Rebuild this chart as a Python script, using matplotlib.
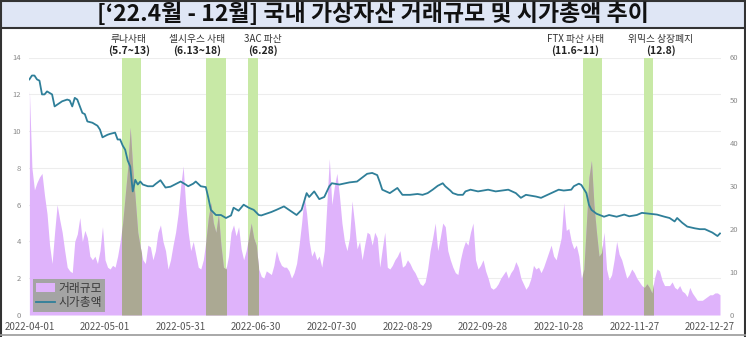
import matplotlib
matplotlib.use('Agg')
import matplotlib.pyplot as plt
import matplotlib.transforms as mtransforms
from matplotlib.patches import Rectangle, Patch
from matplotlib.lines import Line2D
import numpy as np
import pandas as pd

plt.rcParams['font.family'] = ['Noto Sans CJK KR', 'DejaVu Sans']

# ---------------- data ----------------
start_date = '2022-04-01'

# daily trading volume (left axis), day 0 = 2022-04-01
volume = [
    12.2, 8.0, 6.8, 7.2, 7.5, 7.7, 6.5, 5.5, 3.8, 2.8,
    4.5, 6.0, 5.2, 4.5, 3.5, 2.6, 2.4, 2.3, 4.0, 4.4,
    5.3, 4.0, 4.6, 4.2, 3.2, 3.0, 3.2, 2.8, 3.5, 4.8,
    3.0, 2.6, 2.5, 2.7, 2.6, 3.2, 4.0, 5.0, 6.5, 8.0,
    10.2, 8.0, 6.3, 4.5, 3.7, 3.0, 2.8, 3.8, 3.7, 3.0,
    3.5, 4.5, 4.9, 4.0, 3.5, 2.5, 3.0, 3.8, 4.5, 5.5,
    7.0, 8.1, 6.0, 4.5, 3.5, 4.0, 3.3, 2.6, 2.5, 3.0,
    4.0, 5.3, 6.1, 5.0, 4.5, 5.5, 3.8, 2.6, 2.5, 3.2,
    4.5, 4.9, 4.3, 4.8, 3.6, 3.0, 3.5, 4.2, 5.0, 4.2,
    3.8, 2.5, 2.1, 2.0, 2.4, 2.3, 2.2, 2.7, 3.5, 3.0,
    2.7, 2.6, 2.6, 2.4, 2.0, 2.3, 2.8, 3.8, 5.0, 6.5,
    5.5, 4.0, 3.2, 3.5, 3.0, 3.2, 2.6, 3.5, 6.0, 8.5,
    6.0, 7.0, 7.7, 6.5, 5.0, 4.0, 3.5, 4.2, 6.2, 5.0,
    3.6, 4.0, 3.0, 3.8, 4.5, 4.4, 3.8, 4.5, 4.2, 2.6,
    3.6, 4.5, 2.6, 2.5, 2.7, 3.0, 3.2, 3.5, 2.6, 2.7,
    3.0, 2.8, 2.5, 2.3, 2.0, 1.7, 1.6, 1.8, 2.5, 3.5,
    4.2, 5.0, 3.5, 4.2, 5.0, 4.8, 3.5, 3.0, 2.6, 2.3,
    2.2, 3.0, 3.6, 4.0, 3.8, 4.5, 5.0, 3.0, 2.5, 2.7,
    3.0, 2.4, 2.0, 1.5, 1.4, 1.5, 1.7, 2.0, 2.2, 2.4,
    2.0, 2.3, 2.5, 2.9, 2.6, 2.0, 1.7, 1.4, 1.6, 2.0,
    2.7, 2.5, 2.6, 2.3, 2.6, 3.0, 3.4, 3.8, 3.2, 3.0,
    3.6, 4.2, 6.1, 4.6, 4.7, 4.0, 3.6, 3.8, 3.2, 2.0,
    2.5, 5.0, 7.5, 8.4, 6.0, 4.5, 3.2, 3.4, 4.5, 2.5,
    1.9, 2.2, 3.0, 4.0, 3.3, 3.0, 2.5, 2.0, 2.2, 2.5,
    2.3, 2.0, 1.8, 1.6, 1.5, 1.7, 1.5, 1.2, 2.0, 2.5,
    2.4, 1.9, 1.6, 1.6, 1.6, 1.8, 1.5, 1.4, 1.6, 1.3,
    1.2, 1.0, 1.5, 1.2, 1.0, 0.8, 0.8, 0.8, 0.9, 1.0,
    1.1, 1.1, 1.2, 1.2, 1.1,
]

# market capitalisation (right axis), sampled days since 2022-04-01
cap_days = [
    0, 1, 2, 3, 4, 5, 6, 7, 9, 10, 11, 13, 15, 16, 17, 18, 19, 21, 22, 23,
    25, 27, 28, 29, 31, 32, 34, 35, 36, 37, 38, 39, 40, 41, 42, 43, 44, 45,
    47, 49, 50, 52, 54, 56, 58, 60, 62, 63, 65, 66, 68, 70, 71, 72, 74, 76,
    78, 80, 81, 83, 85, 87, 89, 91, 92, 94, 96, 98, 101, 103, 106, 108, 110,
    111, 113, 115, 117, 119, 120, 123, 127, 130, 132, 134, 136, 138, 139,
    140, 143, 144, 146, 148, 151, 154, 156, 158, 160, 162, 164, 165, 167,
    168, 170, 172, 173, 175, 178, 182, 185, 190, 193, 195, 197, 201, 203,
    207, 210, 212, 215, 216, 218, 219, 221, 222, 223, 225, 228, 230, 233,
    236, 238, 241, 243, 246, 249, 252, 254, 256, 257, 259, 261, 264, 266,
    268, 271, 273, 274,
]
cap_values = [
    54.9, 55.8, 55.8, 54.9, 54.6, 51.4, 51.4, 52.1, 51.4, 48.6, 49.0, 49.8,
    50.2, 50.0, 48.6, 50.6, 50.2, 47.1, 46.8, 45.1, 44.8, 44.1, 43.2, 41.4,
    42.0, 42.2, 42.5, 40.9, 40.9, 39.5, 38.5, 36.0, 34.6, 28.8, 31.5, 30.4,
    31.1, 30.4, 30.0, 30.0, 30.5, 31.4, 29.7, 29.9, 30.5, 31.1, 30.4, 30.0,
    30.6, 31.1, 30.0, 29.8, 27.3, 24.5, 23.3, 23.3, 22.6, 23.2, 25.0, 24.3,
    25.7, 25.0, 24.5, 23.3, 23.2, 23.6, 24.0, 24.5, 25.3, 24.5, 23.3, 24.5,
    28.4, 27.5, 28.8, 27.0, 27.5, 30.0, 30.7, 30.4, 30.9, 31.1, 32.0, 32.9,
    33.1, 32.6, 31.0, 29.2, 28.4, 28.8, 29.6, 28.0, 28.0, 28.2, 28.0, 28.4,
    29.2, 30.1, 30.7, 30.0, 29.0, 28.4, 28.0, 28.0, 28.8, 29.2, 28.8, 29.2,
    28.8, 29.2, 28.4, 27.3, 28.0, 27.6, 27.3, 28.4, 29.2, 29.0, 29.2, 30.0,
    30.6, 30.3, 28.4, 25.7, 24.5, 23.6, 22.9, 23.3, 22.9, 23.4, 23.0, 23.3,
    23.8, 23.6, 23.4, 22.9, 22.6, 21.8, 22.6, 21.5, 20.6, 20.2, 20.0, 20.0,
    19.2, 18.4, 19.0,
]

# event bands (days since start)
band_start = [36.7, 70.0, 86.7, 219.7, 243.9]
band_end = [44.3, 78.0, 90.7, 227.2, 247.5]
event_names = ['루나사태', '셀시우스 사태', '3AC 파산', 'FTX 파산 사태', '위믹스 상장폐지']
event_dates = ['(5.7~13)', '(6.13~18)', '(6.28)', '(11.6~11)', '(12.8)']
event_label_day = [39.5, 66.5, 92.7, 216.5, 250.6]

x_tick_days = [0, 30, 60, 90, 120, 150, 180, 210, 240, 270]
left_ticks = [0, 2, 4, 6, 8, 10, 12, 14]
right_ticks = [0, 10, 20, 30, 40, 50, 60]
legend_labels = ['거래규모', '시가총액']
title = '[‘22.4월 - 12월] 국내 가상자산 거래규모 및 시가총액 추이'

# ---------------- style ----------------
PURPLE = '#dfb3fb'
TEAL = '#2f7f99'
GREEN = '#c8e9a6'
OVERLAP = '#aba993'

W, H = 746, 337
fig = plt.figure(figsize=(W / 100, H / 100), dpi=100)
fig.patch.set_facecolor('white')

# title bar
fig.patches.append(Rectangle((0, 1 - 27 / H), 1, 27 / H, transform=fig.transFigure,
                             facecolor='#dfe6f5', edgecolor='none', zorder=0))
fig.lines.append(Line2D([0, 1], [1 - 27.5 / H, 1 - 27.5 / H], transform=fig.transFigure,
                        color='#333333', lw=1.5))
fig.lines.append(Line2D([0, 1], [1 - 0.5 / H, 1 - 0.5 / H], transform=fig.transFigure,
                        color='#333333', lw=1.5))
fig.lines.append(Line2D([0.7 / W, 0.7 / W], [0, 1], transform=fig.transFigure,
                        color='#333333', lw=1.5))
fig.lines.append(Line2D([1 - 1.2 / W, 1 - 1.2 / W], [0, 1], transform=fig.transFigure,
                        color='#333333', lw=1.5))
fig.lines.append(Line2D([0, 1], [2.5 / H, 2.5 / H], transform=fig.transFigure,
                        color='#9a9a9a', lw=1.2))
fig.text(0.5, 1 - 14.5 / H, title, ha='center', va='center', fontsize=16.5,
         color='#111111', fontweight='bold')

left_px, right_px, top_px, bot_px = 29.4, 721.0, 57.5, 315.0
ax = fig.add_axes([left_px / W, 1 - bot_px / H, (right_px - left_px) / W, (bot_px - top_px) / H])
ax2 = ax.twinx()

days = np.arange(len(volume))
ax.set_xlim(0, 274.4)
ax.set_ylim(0, 14)
ax2.set_ylim(0, 60)

for s, e in zip(band_start, band_end):
    ax.axvspan(s, e, color=GREEN, lw=0, zorder=0.6)

ax.fill_between(days, 0, volume, color=PURPLE, lw=0, zorder=1)
for s, e in zip(band_start, band_end):
    poly = ax.fill_between(days, 0, volume, color=OVERLAP, lw=0, zorder=2)
    clip = Rectangle((s, 0), e - s, 14, transform=ax.transData)
    poly.set_clip_path(clip)

ax2.plot(cap_days, cap_values, color=TEAL, lw=1.3, zorder=3)

ax.set_yticks(left_ticks)
ax2.set_yticks(right_ticks)
ax.yaxis.grid(True, color='#ededed', lw=0.8)
ax.set_axisbelow(True)
ax.set_xticks(x_tick_days)
base = pd.Timestamp(start_date)
ax.set_xticklabels([(base + pd.Timedelta(days=d)).strftime('%Y-%m-%d') for d in x_tick_days])

for a in (ax, ax2):
    for sp in a.spines.values():
        sp.set_visible(False)
ax.tick_params(axis='x', length=0, pad=5, labelsize=7, labelcolor='#555555')
ax.tick_params(axis='y', length=0, pad=6, labelsize=5.5, labelcolor='#8a8a8a')
ax2.tick_params(axis='y', length=0, pad=6, labelsize=5.5, labelcolor='#8a8a8a')

# event annotations
blend = mtransforms.blended_transform_factory(ax.transData, fig.transFigure)
for d, n, dt in zip(event_label_day, event_names, event_dates):
    ax.text(d, 1 - 39 / H, n, transform=blend, ha='center', va='center',
            fontsize=7, color='#333333', clip_on=False)
    ax.text(d, 1 - 51 / H, dt, transform=blend, ha='center', va='center',
            fontsize=7.5, color='#222222', fontweight='bold', clip_on=False)

handles = [Patch(facecolor=PURPLE, edgecolor='none'), Line2D([], [], color=TEAL, lw=1.3)]
leg = ax2.legend(handles, legend_labels, loc='lower left',
                 bbox_to_anchor=(33 / W, 1 - 312 / H), bbox_transform=fig.transFigure,
                 borderaxespad=0, frameon=True, facecolor='#a4a4a4', edgecolor='none',
                 framealpha=1, fancybox=False, fontsize=8.5, handlelength=1.6,
                 handleheight=0.8, handletextpad=0.3, labelspacing=0.1, borderpad=0.25)
for t in leg.get_texts():
    t.set_color('#3a3a3a')

fig.savefig('out.png', dpi=100)
